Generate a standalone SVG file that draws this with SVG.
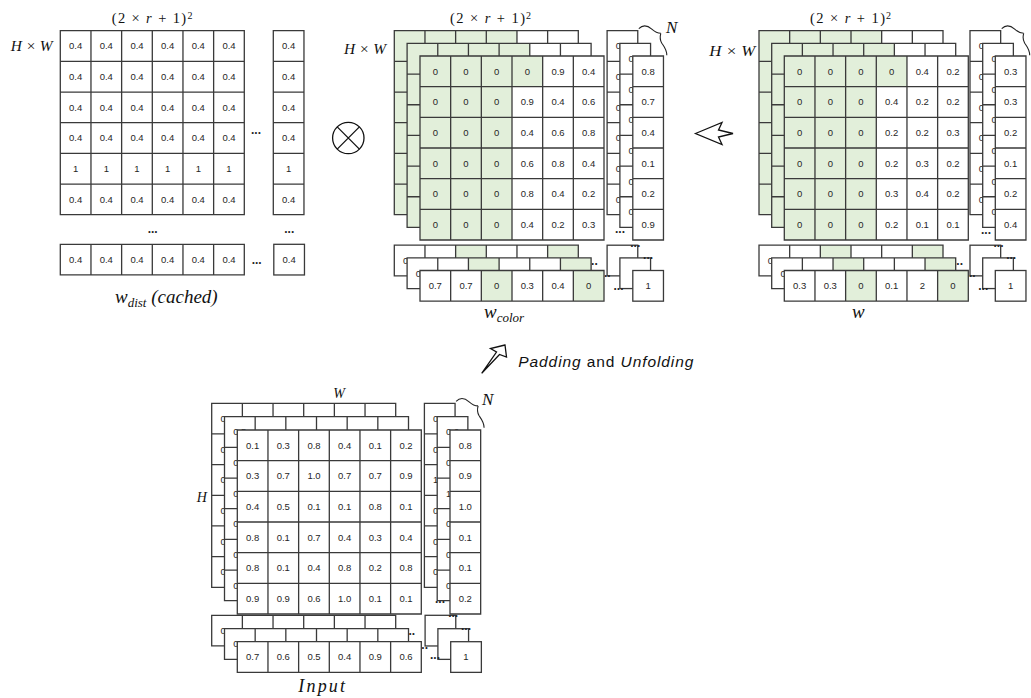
<svg xmlns="http://www.w3.org/2000/svg" xmlns:xlink="http://www.w3.org/1999/xlink" width="1031" height="698" viewBox="0 0 1031 698">
<style>
.bg{fill:#fff}
.gr{fill:#e2efda}
.ln{fill:none;stroke:#3a3a3a;stroke-width:1.3}
.cl{fill:#fff;stroke:#3a3a3a;stroke-width:1.3}
.t{font-family:"Liberation Sans",Arial,sans-serif;font-size:9.5px;fill:#262626;text-anchor:middle}
.d{font-family:"Liberation Sans",Arial,sans-serif;font-size:12px;font-weight:bold;fill:#262626;text-anchor:middle}
.m{font-family:"Liberation Serif","Times New Roman",serif;font-style:italic;fill:#111}
.mu{font-family:"Liberation Serif","Times New Roman",serif;font-style:normal;fill:#111}
.br{fill:none;stroke:#222;stroke-width:1.1}
.ar{fill:#fff;stroke:#111;stroke-width:1.3;stroke-linejoin:miter}
</style>
<defs>
<path id="glines" class="ln" d="M0,0H184V184H0Z M30.667,0V184 M61.333,0V184 M92,0V184 M122.667,0V184 M153.333,0V184 M0,30.667H184 M0,61.333H184 M0,92H184 M0,122.667H184 M0,153.333H184"/>
<path id="rlines" class="ln" d="M0,0H184V30.667H0Z M30.667,0V30.667 M61.333,0V30.667 M92,0V30.667 M122.667,0V30.667 M153.333,0V30.667"/>
<g id="gridW"><rect class="bg" width="184" height="184"/><use xlink:href="#glines"/></g>
<g id="gridG"><rect class="bg" width="184" height="184"/><path class="gr" d="M0,0H122.667V30.667H92V184H0Z"/><use xlink:href="#glines"/></g>
<g id="colW"><rect class="bg" width="30.667" height="184"/><path class="ln" d="M0,0H30.667V184H0Z M0,30.667H30.667 M0,61.333H30.667 M0,92H30.667 M0,122.667H30.667 M0,153.333H30.667"/></g>
<g id="rowW"><rect class="bg" width="184" height="30.667"/><use xlink:href="#rlines"/></g>
<g id="rowG"><rect class="bg" width="184" height="30.667"/><rect class="gr" x="61.333" width="30.667" height="30.667"/><rect class="gr" x="153.333" width="30.667" height="30.667"/><use xlink:href="#rlines"/></g>
<rect id="cellW" class="cl" width="30.667" height="30.667"/>
<path id="brace" class="br" d="M1,-2 C5,-6 10,-5 14,-1.5 C17,1.2 20,2.6 23,2.6 M23,2.6 C22,6 22,9 24,12.5 C26.5,16 29,19 29,24.5"/>
</defs>

<!-- w_dist matrix -->
<g id="w-dist">
<text class="m" x="10.7" y="51" font-size="14" textLength="42" lengthAdjust="spacingAndGlyphs">H × W</text>
<text class="mu" x="111.7" y="22.7" font-size="14.5" textLength="74.5">(2 × <tspan class="m">r</tspan> + 1)</text>
<text class="mu" x="187.5" y="18.5" font-size="10">2</text>
<g transform="translate(60.3,30.7)">
<use xlink:href="#gridW"/><use xlink:href="#colW" x="213"/><use xlink:href="#rowW" y="213.6"/><use xlink:href="#cellW" x="213.5" y="213.6"/>
<text class="t" y="18.7"><tspan x="15.3">0.4</tspan><tspan x="46">0.4</tspan><tspan x="76.7">0.4</tspan><tspan x="107.3">0.4</tspan><tspan x="138">0.4</tspan><tspan x="168.7">0.4</tspan><tspan x="228.3">0.4</tspan></text>
<text class="t" y="49.4"><tspan x="15.3">0.4</tspan><tspan x="46">0.4</tspan><tspan x="76.7">0.4</tspan><tspan x="107.3">0.4</tspan><tspan x="138">0.4</tspan><tspan x="168.7">0.4</tspan><tspan x="228.3">0.4</tspan></text>
<text class="t" y="80.1"><tspan x="15.3">0.4</tspan><tspan x="46">0.4</tspan><tspan x="76.7">0.4</tspan><tspan x="107.3">0.4</tspan><tspan x="138">0.4</tspan><tspan x="168.7">0.4</tspan><tspan x="228.3">0.4</tspan></text>
<text class="t" y="110.7"><tspan x="15.3">0.4</tspan><tspan x="46">0.4</tspan><tspan x="76.7">0.4</tspan><tspan x="107.3">0.4</tspan><tspan x="138">0.4</tspan><tspan x="168.7">0.4</tspan><tspan x="228.3">0.4</tspan></text>
<text class="t" y="141.4"><tspan x="15.3">1</tspan><tspan x="46">1</tspan><tspan x="76.7">1</tspan><tspan x="107.3">1</tspan><tspan x="138">1</tspan><tspan x="168.7">1</tspan><tspan x="228.3">1</tspan></text>
<text class="t" y="172.1"><tspan x="15.3">0.4</tspan><tspan x="46">0.4</tspan><tspan x="76.7">0.4</tspan><tspan x="107.3">0.4</tspan><tspan x="138">0.4</tspan><tspan x="168.7">0.4</tspan><tspan x="228.3">0.4</tspan></text>
<text class="t" y="232.3"><tspan x="15.3">0.4</tspan><tspan x="46">0.4</tspan><tspan x="76.7">0.4</tspan><tspan x="107.3">0.4</tspan><tspan x="138">0.4</tspan><tspan x="168.7">0.4</tspan><tspan x="228.8">0.4</tspan></text>
<text class="d" x="195.7" y="103.6">...</text>
<text class="d" x="92.4" y="202.6">...</text>
<text class="d" x="229" y="202.6">...</text>
<text class="d" x="196.4" y="233.6">...</text>
</g>
<text class="m" x="115" y="303" font-size="19">w<tspan font-size="13" dy="4">dist</tspan><tspan dy="-4"> (cached)</tspan></text>
</g>

<!-- otimes -->
<g id="otimes">
<circle cx="348.3" cy="138" r="15.7" fill="#fff" stroke="#111" stroke-width="1.3"/>
<path d="M337.2,126.9L359.4,149.1M359.4,126.9L337.2,149.1" stroke="#111" stroke-width="1.3"/>
</g>

<!-- w_color matrix -->
<g id="w-color">
<text class="m" x="344" y="54" font-size="14" textLength="42" lengthAdjust="spacingAndGlyphs">H × W</text>
<text class="mu" x="450" y="22.7" font-size="14.5" textLength="75">(2 × <tspan class="m">r</tspan> + 1)</text>
<text class="mu" x="526" y="18.5" font-size="10">2</text>
<g id="w-color-l1" transform="translate(394.3,30.7)">
<use xlink:href="#gridG"/><use xlink:href="#colW" x="212.8"/><use xlink:href="#rowG" y="214.5"/><use xlink:href="#cellW" x="212.8" y="214.5"/>
<text class="t" x="228.1" y="18.7">0.5</text><text class="t" x="228.1" y="49.4">0.3</text><text class="t" x="228.1" y="80.1">0.6</text><text class="t" x="228.1" y="110.7">0.2</text><text class="t" x="228.1" y="141.4">0.7</text><text class="t" x="228.1" y="172.1">0.4</text>
<text class="t" x="15.3" y="233.2">0.6</text>
<text class="d" x="198.5" y="234">...</text><text class="d" x="241" y="216">...</text>
</g>
<g id="w-color-l2" transform="translate(407.1,43.4)">
<use xlink:href="#gridG"/><use xlink:href="#colW" x="212.8"/><use xlink:href="#rowG" y="214.5"/><use xlink:href="#cellW" x="212.8" y="214.5"/>
<text class="t" x="228.1" y="18.7">0.2</text><text class="t" x="228.1" y="49.4">0.5</text><text class="t" x="228.1" y="80.1">0.3</text><text class="t" x="228.1" y="110.7">0.6</text><text class="t" x="228.1" y="141.4">0.1</text><text class="t" x="228.1" y="172.1">0.8</text>
<text class="t" x="15.3" y="233.2">0.5</text>
<text class="d" x="198.5" y="234">...</text><text class="d" x="241" y="216">...</text>
</g>
<g id="w-color-l3" transform="translate(420,56)">
<use xlink:href="#gridG"/><use xlink:href="#colW" x="212.8"/><use xlink:href="#rowG" y="214.5"/><use xlink:href="#cellW" x="212.8" y="214.5"/>
<text class="t" y="18.7"><tspan x="15.3">0</tspan><tspan x="46">0</tspan><tspan x="76.7">0</tspan><tspan x="107.3">0</tspan><tspan x="138">0.9</tspan><tspan x="168.7">0.4</tspan><tspan x="228.1">0.8</tspan></text>
<text class="t" y="49.4"><tspan x="15.3">0</tspan><tspan x="46">0</tspan><tspan x="76.7">0</tspan><tspan x="107.3">0.9</tspan><tspan x="138">0.4</tspan><tspan x="168.7">0.6</tspan><tspan x="228.1">0.7</tspan></text>
<text class="t" y="80.1"><tspan x="15.3">0</tspan><tspan x="46">0</tspan><tspan x="76.7">0</tspan><tspan x="107.3">0.4</tspan><tspan x="138">0.6</tspan><tspan x="168.7">0.8</tspan><tspan x="228.1">0.4</tspan></text>
<text class="t" y="110.7"><tspan x="15.3">0</tspan><tspan x="46">0</tspan><tspan x="76.7">0</tspan><tspan x="107.3">0.6</tspan><tspan x="138">0.8</tspan><tspan x="168.7">0.4</tspan><tspan x="228.1">0.1</tspan></text>
<text class="t" y="141.4"><tspan x="15.3">0</tspan><tspan x="46">0</tspan><tspan x="76.7">0</tspan><tspan x="107.3">0.8</tspan><tspan x="138">0.4</tspan><tspan x="168.7">0.2</tspan><tspan x="228.1">0.2</tspan></text>
<text class="t" y="172.1"><tspan x="15.3">0</tspan><tspan x="46">0</tspan><tspan x="76.7">0</tspan><tspan x="107.3">0.4</tspan><tspan x="138">0.2</tspan><tspan x="168.7">0.3</tspan><tspan x="228.1">0.9</tspan></text>
<text class="t" y="233.2"><tspan x="15.3">0.7</tspan><tspan x="46">0.7</tspan><tspan x="76.7">0</tspan><tspan x="107.3">0.3</tspan><tspan x="138">0.4</tspan><tspan x="168.7">0</tspan><tspan x="228.1">1</tspan></text>
<text class="d" x="200" y="176.7">...</text><text class="d" x="198.5" y="234">...</text>
</g>
<use xlink:href="#brace" transform="translate(637.8,30.7)"/>
<text class="m" x="666" y="33" font-size="17">N</text>
<text class="m" x="484" y="318" font-size="19">w<tspan font-size="13" dy="4">color</tspan></text>
</g>

<!-- w matrix -->
<g id="w-result">
<text class="m" x="709.3" y="56" font-size="14" textLength="46" lengthAdjust="spacingAndGlyphs">H × W</text>
<text class="mu" x="810" y="22.7" font-size="14.5" textLength="75">(2 × <tspan class="m">r</tspan> + 1)</text>
<text class="mu" x="886" y="18.5" font-size="10">2</text>
<g id="w-l1" transform="translate(759,30.7)">
<use xlink:href="#gridG"/><use xlink:href="#colW" x="211"/><use xlink:href="#rowG" y="214.5"/><use xlink:href="#cellW" x="211" y="214.5"/>
<text class="t" x="226.3" y="18.7">0.2</text><text class="t" x="226.3" y="49.4">0.1</text><text class="t" x="226.3" y="80.1">0.3</text><text class="t" x="226.3" y="110.7">0.2</text><text class="t" x="226.3" y="141.4">0.1</text><text class="t" x="226.3" y="172.1">0.2</text>
<text class="t" x="15.3" y="233.2">0.2</text>
<text class="d" x="199" y="234">...</text><text class="d" x="239.5" y="216">...</text>
</g>
<g id="w-l2" transform="translate(771.7,43.4)">
<use xlink:href="#gridG"/><use xlink:href="#colW" x="211"/><use xlink:href="#rowG" y="214.5"/><use xlink:href="#cellW" x="211" y="214.5"/>
<text class="t" x="226.3" y="18.7">0.1</text><text class="t" x="226.3" y="49.4">0.2</text><text class="t" x="226.3" y="80.1">0.2</text><text class="t" x="226.3" y="110.7">0.3</text><text class="t" x="226.3" y="141.4">0.2</text><text class="t" x="226.3" y="172.1">0.1</text>
<text class="t" x="15.3" y="233.2">0.3</text>
<text class="d" x="199" y="234">...</text><text class="d" x="239.5" y="216">...</text>
</g>
<g id="w-l3" transform="translate(784.3,56)">
<use xlink:href="#gridG"/><use xlink:href="#colW" x="211"/><use xlink:href="#rowG" y="214.5"/><use xlink:href="#cellW" x="211" y="214.5"/>
<text class="t" y="18.7"><tspan x="15.3">0</tspan><tspan x="46">0</tspan><tspan x="76.7">0</tspan><tspan x="107.3">0</tspan><tspan x="138">0.4</tspan><tspan x="168.7">0.2</tspan><tspan x="226.3">0.3</tspan></text>
<text class="t" y="49.4"><tspan x="15.3">0</tspan><tspan x="46">0</tspan><tspan x="76.7">0</tspan><tspan x="107.3">0.4</tspan><tspan x="138">0.2</tspan><tspan x="168.7">0.2</tspan><tspan x="226.3">0.3</tspan></text>
<text class="t" y="80.1"><tspan x="15.3">0</tspan><tspan x="46">0</tspan><tspan x="76.7">0</tspan><tspan x="107.3">0.2</tspan><tspan x="138">0.2</tspan><tspan x="168.7">0.3</tspan><tspan x="226.3">0.2</tspan></text>
<text class="t" y="110.7"><tspan x="15.3">0</tspan><tspan x="46">0</tspan><tspan x="76.7">0</tspan><tspan x="107.3">0.2</tspan><tspan x="138">0.3</tspan><tspan x="168.7">0.2</tspan><tspan x="226.3">0.1</tspan></text>
<text class="t" y="141.4"><tspan x="15.3">0</tspan><tspan x="46">0</tspan><tspan x="76.7">0</tspan><tspan x="107.3">0.3</tspan><tspan x="138">0.4</tspan><tspan x="168.7">0.2</tspan><tspan x="226.3">0.2</tspan></text>
<text class="t" y="172.1"><tspan x="15.3">0</tspan><tspan x="46">0</tspan><tspan x="76.7">0</tspan><tspan x="107.3">0.2</tspan><tspan x="138">0.1</tspan><tspan x="168.7">0.1</tspan><tspan x="226.3">0.4</tspan></text>
<text class="t" y="233.2"><tspan x="15.3">0.3</tspan><tspan x="46">0.3</tspan><tspan x="76.7">0</tspan><tspan x="107.3">0.1</tspan><tspan x="138">2</tspan><tspan x="168.7">0</tspan><tspan x="226.3">1</tspan></text>
<text class="d" x="201.7" y="177.7">...</text><text class="d" x="199" y="234">...</text>
</g>
<use xlink:href="#brace" transform="translate(1000.7,30.7)"/>
<text class="m" x="852" y="318" font-size="19">w</text>
</g>

<!-- Input -->
<g id="input">
<text class="m" x="333.3" y="398" font-size="14">W</text>
<text class="m" x="196.7" y="501.5" font-size="14">H</text>
<g id="input-l1" transform="translate(211.7,403.3)">
<use xlink:href="#gridW"/><use xlink:href="#colW" x="212.7"/><use xlink:href="#rowW" y="212"/><use xlink:href="#cellW" x="213.4" y="212"/>
<text class="t" y="18.7"><tspan x="15.3">0.2</tspan><tspan x="228">0.5</tspan></text>
<text class="t" y="49.4"><tspan x="15.3">0.6</tspan><tspan x="228">0.7</tspan></text>
<text class="t" y="80.1"><tspan x="15.3">0.3</tspan><tspan x="228">1.0</tspan></text>
<text class="t" y="110.7"><tspan x="15.3">0.5</tspan><tspan x="228">0.2</tspan></text>
<text class="t" y="141.4"><tspan x="15.3">0.7</tspan><tspan x="228">0.3</tspan></text>
<text class="t" y="172.1"><tspan x="15.3">0.4</tspan><tspan x="228">0.6</tspan></text>
<text class="t" x="15.3" y="230.7">0.8</text>
<text class="d" x="198.5" y="232">...</text><text class="d" x="241.5" y="213.5">...</text>
</g>
<g id="input-l2" transform="translate(224.5,416.7)">
<use xlink:href="#gridW"/><use xlink:href="#colW" x="212.7"/><use xlink:href="#rowW" y="212"/><use xlink:href="#cellW" x="213.4" y="212"/>
<text class="t" y="18.7"><tspan x="15.3">0.5</tspan><tspan x="228">0.6</tspan></text>
<text class="t" y="49.4"><tspan x="15.3">0.2</tspan><tspan x="228">0.8</tspan></text>
<text class="t" y="80.1"><tspan x="15.3">0.6</tspan><tspan x="228">1.0</tspan></text>
<text class="t" y="110.7"><tspan x="15.3">0.3</tspan><tspan x="228">0.4</tspan></text>
<text class="t" y="141.4"><tspan x="15.3">0.9</tspan><tspan x="228">0.2</tspan></text>
<text class="t" y="172.1"><tspan x="15.3">0.7</tspan><tspan x="228">0.5</tspan></text>
<text class="t" x="15.3" y="230.7">0.6</text>
<text class="d" x="198.5" y="232">...</text><text class="d" x="241.5" y="213.5">...</text>
</g>
<g id="input-l3" transform="translate(237.3,430)">
<use xlink:href="#gridW"/><use xlink:href="#colW" x="212.7"/><use xlink:href="#rowW" y="211.7"/><use xlink:href="#cellW" x="213.4" y="211.7"/>
<text class="t" y="18.7"><tspan x="15.3">0.1</tspan><tspan x="46">0.3</tspan><tspan x="76.7">0.8</tspan><tspan x="107.3">0.4</tspan><tspan x="138">0.1</tspan><tspan x="168.7">0.2</tspan><tspan x="228">0.8</tspan></text>
<text class="t" y="49.4"><tspan x="15.3">0.3</tspan><tspan x="46">0.7</tspan><tspan x="76.7">1.0</tspan><tspan x="107.3">0.7</tspan><tspan x="138">0.7</tspan><tspan x="168.7">0.9</tspan><tspan x="228">0.9</tspan></text>
<text class="t" y="80.1"><tspan x="15.3">0.4</tspan><tspan x="46">0.5</tspan><tspan x="76.7">0.1</tspan><tspan x="107.3">0.1</tspan><tspan x="138">0.8</tspan><tspan x="168.7">0.1</tspan><tspan x="228">1.0</tspan></text>
<text class="t" y="110.7"><tspan x="15.3">0.8</tspan><tspan x="46">0.1</tspan><tspan x="76.7">0.7</tspan><tspan x="107.3">0.4</tspan><tspan x="138">0.3</tspan><tspan x="168.7">0.4</tspan><tspan x="228">0.1</tspan></text>
<text class="t" y="141.4"><tspan x="15.3">0.8</tspan><tspan x="46">0.1</tspan><tspan x="76.7">0.4</tspan><tspan x="107.3">0.8</tspan><tspan x="138">0.2</tspan><tspan x="168.7">0.8</tspan><tspan x="228">0.1</tspan></text>
<text class="t" y="172.1"><tspan x="15.3">0.9</tspan><tspan x="46">0.9</tspan><tspan x="76.7">0.6</tspan><tspan x="107.3">1.0</tspan><tspan x="138">0.1</tspan><tspan x="168.7">0.1</tspan><tspan x="228">0.2</tspan></text>
<text class="t" y="230.4"><tspan x="15.3">0.7</tspan><tspan x="46">0.6</tspan><tspan x="76.7">0.5</tspan><tspan x="107.3">0.4</tspan><tspan x="138">0.9</tspan><tspan x="168.7">0.6</tspan><tspan x="228.7">1</tspan></text>
<text class="d" x="202.7" y="172.7">...</text><text class="d" x="197.7" y="229.3">...</text>
</g>
<use xlink:href="#brace" transform="translate(455.1,403.3)"/>
<text class="m" x="482" y="405" font-size="17">N</text>
<text class="m" x="298.3" y="692" font-size="18" textLength="46.7">Input</text>
</g>

<!-- connectors -->
<g id="connectors">
<polygon class="ar" points="695.5,133.5 722,122.5 718.5,130 733,133.5 718.5,137 722,144.5"/>
<polygon class="ar" points="505,345 490.5,348.5 496.5,352 481.7,373.3 499.5,354.5 506.5,357"/>
<text x="518.3" y="366.7" font-family="Liberation Sans, Arial, sans-serif" font-size="15.5" fill="#111" textLength="175"><tspan font-style="italic">Padding</tspan> and <tspan font-style="italic">Unfolding</tspan></text>
</g>
</svg>
